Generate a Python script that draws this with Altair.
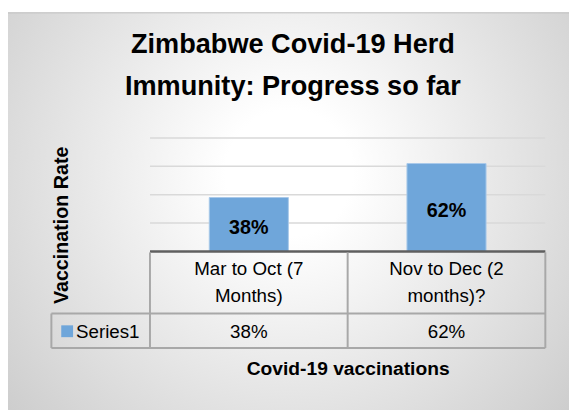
import altair as alt
import pandas as pd

# ---- data ----
categories = ["Mar to Oct (7\nMonths)", "Nov to Dec (2\nmonths)?"]
values = [0.38, 0.62]
series_name = ["Series1"]
title_lines = ["Zimbabwe Covid-19 Herd", "Immunity: Progress so far"]
y_title = "Vaccination Rate"
x_title = "Covid-19 vaccinations"
grid_values = [0.2, 0.4, 0.6, 0.8]

df = pd.DataFrame({"cat": categories, "val": values})
grid_df = pd.DataFrame({"val": grid_values})
one = pd.DataFrame({"s": series_name})
title_df = pd.DataFrame({"t": ["\n".join(title_lines)]})

FONT = "Liberation Sans"
BAR = "#6fa6da"
BORDER = "#a8a8a8"
W, H = 401, 115
HDR_BOT = 178
ROW_BOT = 213

yscale = alt.Scale(domain=[0, 0.8], nice=False, zero=True)
yaxis = alt.Axis(labels=False, ticks=False, domain=False, grid=False, zindex=1,
                 title=y_title, titleFont=FONT, titleFontSize=20,
                 titleFontWeight="bold", titleColor="black",
                 titleX=-90, titleY=88, titleAngle=270,
                 titleAlign="center", titleBaseline="middle")
xaxis = alt.Axis(labels=False, ticks=False, domain=False, grid=False, zindex=1,
                 title=x_title, titleFont=FONT, titleFontSize=19.5,
                 titleFontWeight="bold", titleColor="black",
                 titleY=119, titleBaseline="middle")
xscale = alt.Scale(paddingInner=0.6, paddingOuter=0.3)


def X():
    return alt.X("cat:N", sort=categories, scale=xscale, axis=xaxis)


def Y(field):
    return alt.Y(field, scale=yscale, axis=yaxis)


grad = alt.RadialGradient(
    gradient="radial",
    stops=[alt.GradientStop(color="#ffffff", offset=0),
           alt.GradientStop(color="#ffffff", offset=0.15),
           alt.GradientStop(color="#c4c4c4", offset=1)],
    x1=0.5, y1=0.42, r1=0, x2=0.5, y2=0.42, r2=0.75)

bg = alt.Chart(one).mark_rect(fill=grad, stroke="#bdbdbd", strokeWidth=1).encode(
    x=alt.value(-146), x2=alt.value(428), y=alt.value(-127), y2=alt.value(290))

title = alt.Chart(title_df).mark_text(
    font=FONT, fontSize=27.5, fontWeight="bold", color="black", lineBreak="\n",
    lineHeight=42, baseline="middle", align="center").encode(
    x=alt.value(145), y=alt.value(-94), text="t:N")

grid = alt.Chart(grid_df).mark_rule(color="#d9d9d9", strokeWidth=1.5).encode(y=Y("val:Q"))

bars = alt.Chart(df).mark_bar(color=BAR, stroke="#a9c9ea", strokeWidth=1).encode(
    x=X(), y=Y("val:Q"))

labels = alt.Chart(df).transform_calculate(mid="datum.val / 2").mark_text(
    font=FONT, fontSize=20, fontWeight="bold", color="black", baseline="middle", dy=4
).encode(x=X(), y=Y("mid:Q"), text=alt.Text("val:Q", format=".0%"))

base_rule = alt.Chart(one).mark_rule(color="#5f5f5f", strokeWidth=2.5).encode(
    x=alt.value(0), x2=alt.value(W), y=alt.value(H))


def hrule(x1, x2, y):
    return alt.Chart(one).mark_rule(color=BORDER, strokeWidth=2).encode(
        x=alt.value(x1), x2=alt.value(x2), y=alt.value(y))


def vrule(x, y1, y2):
    return alt.Chart(one).mark_rule(color=BORDER, strokeWidth=2).encode(
        x=alt.value(x), y=alt.value(y1), y2=alt.value(y2))


borders = [
    hrule(-100, W, HDR_BOT),
    hrule(-100, W, ROW_BOT),
    vrule(0, H + 1, ROW_BOT),
    vrule(W / 2, H + 1, ROW_BOT),
    vrule(W, H + 1, ROW_BOT),
    vrule(-100, HDR_BOT, ROW_BOT),
]

hdr = alt.Chart(df).mark_text(font=FONT, fontSize=19, lineBreak="\n", lineHeight=27,
                              baseline="middle", color="black").encode(
    x=X(), y=alt.value(133), text="cat:N")

vals = alt.Chart(df).mark_text(font=FONT, fontSize=19, baseline="middle", color="black").encode(
    x=X(), y=alt.value(197), text=alt.Text("val:Q", format=".0%"))

sname = alt.Chart(one).mark_text(font=FONT, fontSize=19, align="left", baseline="middle",
                                 color="black").encode(
    x=alt.value(-75), y=alt.value(197), text="s:N")

sq = alt.Chart(one).mark_square(color=BAR, size=144, opacity=1).encode(
    x=alt.value(-84), y=alt.value(196))

chart = alt.layer(bg, title, grid, bars, labels, base_rule, *borders, hdr, vals, sname, sq).properties(
    width=W, height=H,
    autosize=alt.AutoSizeParams(type="none"),
    padding={"left": 144, "top": 129, "right": 24, "bottom": 158},
).configure_view(stroke=None)

chart.save("out.html", embed_options={"renderer": "svg", "actions": False})
